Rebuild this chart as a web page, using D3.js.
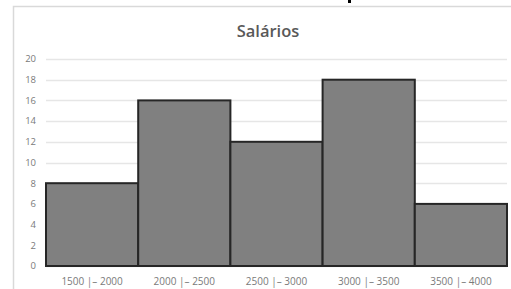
<!DOCTYPE html>
<html><head><meta charset="utf-8">
<script src="https://cdn.jsdelivr.net/npm/d3@7"></script>
<style>body{margin:0;background:#fff;}svg{display:block;}</style>
</head><body>
<script>
const categories = ["1500 |– 2000","2000 |– 2500","2500 |– 3000","3000 |– 3500","3500 |– 4000"];
const values = [8,16,12,18,6];
const yTicks = [0,2,4,6,8,10,12,14,16,18,20];
const title = "Salários";

const W=511,H=289;
const svg=d3.select("body").append("svg").attr("width",W).attr("height",H);
svg.append("rect").attr("x",0).attr("y",0).attr("width",W).attr("height",H).attr("fill","#fff");
svg.append("rect").attr("x",13.5).attr("y",6.5).attr("width",W).attr("height",H).attr("fill","#fff").attr("stroke","#d9d9d9").attr("stroke-width",1.5);
svg.append("rect").attr("x",348).attr("y",0).attr("width",3).attr("height",3).attr("fill","#000");

const x=d3.scaleBand().domain(categories).range([46,507]).paddingInner(0).paddingOuter(0);
const y=d3.scaleLinear().domain([0,20]).range([266,59]);

svg.append("g").selectAll("line").data(yTicks).join("line")
 .attr("x1",46).attr("x2",507).attr("y1",d=>Math.round(y(d))+0.5).attr("y2",d=>Math.round(y(d))+0.5)
 .attr("stroke","#e6e6e6").attr("stroke-width",1.3);

svg.append("g").selectAll("rect").data(values).join("rect")
 .attr("x",(d,i)=>x(categories[i])).attr("width",x.bandwidth())
 .attr("y",d=>y(d)).attr("height",d=>y(0)-y(d))
 .attr("fill","#808080").attr("stroke","#262626").attr("stroke-width",2);

svg.append("g").selectAll("text").data(yTicks).join("text")
 .attr("x",36).attr("y",d=>y(d)).attr("dy","0.35em").attr("text-anchor","end")
 .attr("font-family","'Open Sans', 'Noto Sans', sans-serif").attr("font-size",9.5).attr("fill","#7a7a7a")
 .text(d=>d);

svg.append("g").selectAll("text").data(categories).join("text")
 .attr("x",d=>x(d)+x.bandwidth()/2).attr("y",285).attr("text-anchor","middle")
 .attr("font-family","'Open Sans', 'Noto Sans', sans-serif").attr("font-size",10).attr("fill","#7a7a7a")
 .text(d=>d);

svg.append("text").attr("x",268).attr("y",37).attr("text-anchor","middle")
 .attr("font-family","'Open Sans', 'Noto Sans', sans-serif").attr("font-size",16.5).attr("font-weight","600").attr("fill","#595959")
 .text(title);
</script>
</body></html>
